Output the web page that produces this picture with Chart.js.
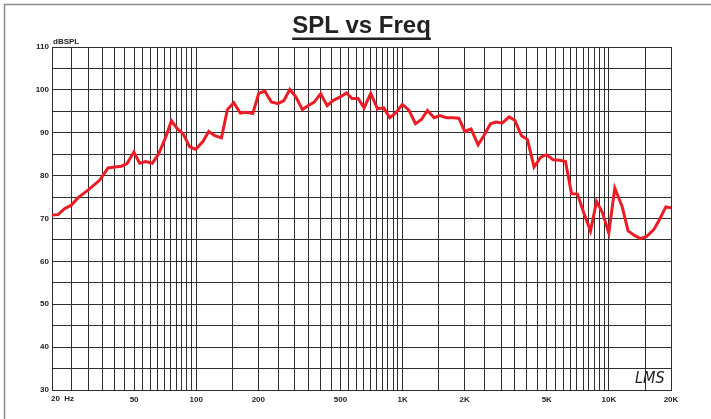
<!DOCTYPE html>
<html lang="en">
<head>
  <meta charset="UTF-8" />
  <title>SPL vs Freq</title>
  <script src="https://cdn.jsdelivr.net/npm/chart.js"></script>
  <style>
    body {
      margin: 0;
      background: #fff;
    }
    #splChart {
      display: block;
    }
  </style>
</head>
<body>
  <canvas id="splChart" width="711" height="419"></canvas>

  <script>
    const freqs = [
      20, 21.4, 23, 24.8, 26.7, 29.9, 34, 37.4, 40.3, 43.4, 46.2, 49.9, 53.2, 56.9, 61.3, 65.8,
      70.9, 75.8, 80.7, 86.3, 93, 99.4, 107.9, 115, 123, 132.5, 141.6, 152, 163.7, 175.2, 188,
      201, 215, 231, 249, 266, 284, 304, 327, 348, 372, 401, 431, 460, 496, 535, 569, 609, 651,
      701, 756, 811, 867, 927, 998, 1075, 1155, 1235, 1320, 1422, 1515, 1633, 1757, 1874, 2002,
      2148, 2323, 2476, 2668, 2831, 3050, 3283, 3500, 3772, 4032, 4339, 4676, 4985, 5366, 5781,
      6162, 6589, 7045, 7557, 8144, 8709, 9313, 9989, 10681, 11588, 12392, 13354, 14233, 15216,
      16508, 17652, 18876, 20000
    ];
    const spl = [
      70.8, 70.9, 72.3, 73.1, 74.8, 76.6, 78.9, 81.8, 82.0, 82.2, 82.8, 85.5, 82.9, 83.3, 82.9, 85.1,
      88.8, 92.8, 91.0, 89.8, 86.7, 86.1, 88.0, 90.3, 89.3, 88.8, 95.4, 97.0, 94.6, 94.8, 94.5,
      99.2, 99.7, 97.2, 96.8, 97.5, 100.1, 98.4, 95.4, 96.3, 97.1, 99.1, 96.3, 97.5, 98.3, 99.3, 98.0, 98.0, 95.8,
      99.2, 95.6, 95.8, 93.5, 94.6, 96.6, 95.2, 92.1, 93.1, 95.2, 93.5, 94.0, 93.5, 93.5, 93.4, 90.3,
      90.9, 87.2, 89.3, 92.1, 92.5, 92.3, 93.7, 92.9, 89.3, 88.4, 82.0, 84.3, 84.9, 83.7, 83.6,
      83.3, 75.8, 75.7, 71.3, 67.1, 74.0, 71.3, 66.6, 77.1, 72.8, 67.1, 66.0, 65.3, 65.8,
      67.4, 69.9, 72.7, 72.5
    ];

    // grid lines of the log paper
    const xGrid = [
      20, 25, 30, 35, 40, 45, 50, 55, 60, 65, 70, 75, 80, 85, 90, 95, 100, 150,
      200, 250, 300, 350, 400, 450, 500, 550, 600, 650, 700, 750, 800, 850, 900, 950, 1000, 1500,
      2000, 2500, 3000, 3500, 4000, 4500, 5000, 5500, 6000, 6500, 7000, 7500, 8000, 8500, 9000, 9500, 10000,
      15000, 20000
    ];
    const xTickValues = [50, 100, 200, 500, 1000, 2000, 5000, 10000, 20000];
    const xTickLabels = ['50', '100', '200', '500', '1K', '2K', '5K', '10K', '20K'];
    const firstXLabel = '20  Hz';
    const yGrid = [30, 35, 40, 45, 50, 55, 60, 65, 70, 75, 80, 85, 90, 95, 100, 105, 110];
    const yTickLabels = ['30', '40', '50', '60', '70', '80', '90', '100', '110'];

    const gridColor = '#2e2e2e';
    const labelFont = { family: 'Arial, "Liberation Sans", sans-serif', size: 8, weight: 'bold' };

    // title, unit label, frame and logo drawn on top
    const decorations = {
      id: 'decorations',
      afterDraw(chart) {
        const ctx = chart.ctx;
        const area = chart.chartArea;
        const xScale = chart.scales.x;
        ctx.save();

        ctx.strokeStyle = '#8c8c8c';
        ctx.lineWidth = 1.5;
        ctx.strokeRect(4.5, 4.5, 900, 600);

        const cx = (area.left + area.right) / 2;
        ctx.fillStyle = '#222';
        ctx.font = 'bold 24px Arial, "Liberation Sans", sans-serif';
        ctx.textAlign = 'center';
        ctx.textBaseline = 'alphabetic';
        ctx.fillText('SPL vs Freq', cx, 33);
        const w = ctx.measureText('SPL vs Freq').width;
        ctx.fillRect(cx - w / 2, 37.5, w, 2.5);

        ctx.font = 'bold 8px Arial, "Liberation Sans", sans-serif';
        ctx.textAlign = 'left';
        ctx.fillText('dBSPL', area.left + 1, 44);

        ctx.textBaseline = 'top';
        ctx.fillText(firstXLabel, xScale.getPixelForValue(20) - 1, area.bottom + 5);

        // hand-written style logo
        ctx.translate(635, 383);
        ctx.scale(0.9, 1);
        ctx.font = 'italic 16px "Liberation Sans Narrow", "DejaVu Sans", sans-serif';
        ctx.textBaseline = 'alphabetic';
        ctx.fillStyle = '#222';
        ctx.fillText('LMS', 0, 0);
        ctx.restore();
      }
    };

    const ctx = document.getElementById('splChart').getContext('2d');
    new Chart(ctx, {
      type: 'line',
      data: {
        datasets: [{
          label: 'SPL',
          data: freqs.map((f, i) => ({ x: f, y: spl[i] })),
          borderColor: '#ec1c24',
          borderWidth: 3,
          pointRadius: 0,
          tension: 0,
          fill: false
        }]
      },
      options: {
        responsive: false,
        devicePixelRatio: 1,
        animation: false,
        layout: { padding: { left: 0, top: 47, right: 40, bottom: 0 } },
        plugins: {
          legend: { display: false },
          title: { display: false },
          tooltip: { enabled: false }
        },
        scales: {
          x: {
            type: 'logarithmic',
            min: 20,
            max: 20000,
            afterBuildTicks: scale => { scale.ticks = xGrid.map(v => ({ value: v })); },
            afterFit: scale => { scale.height = 29; },
            grid: { color: gridColor, lineWidth: 1, drawTicks: false },
            border: { color: gridColor, width: 1 },
            ticks: {
              autoSkip: false,
              maxRotation: 0,
              minRotation: 0,
              padding: 5,
              color: '#222',
              font: labelFont,
              callback: v => {
                const i = xTickValues.indexOf(v);
                return i >= 0 ? xTickLabels[i] : '';
              }
            }
          },
          y: {
            type: 'linear',
            min: 30,
            max: 110,
            afterBuildTicks: scale => { scale.ticks = yGrid.map(v => ({ value: v })); },
            afterFit: scale => { scale.width = 52; },
            grid: { color: gridColor, lineWidth: 1, drawTicks: false },
            border: { color: gridColor, width: 1 },
            ticks: {
              padding: 3,
              color: '#222',
              font: labelFont,
              callback: v => (yTickLabels.includes(String(v)) ? String(v) : '')
            }
          }
        }
      },
      plugins: [decorations]
    });
  </script>
</body>
</html>
